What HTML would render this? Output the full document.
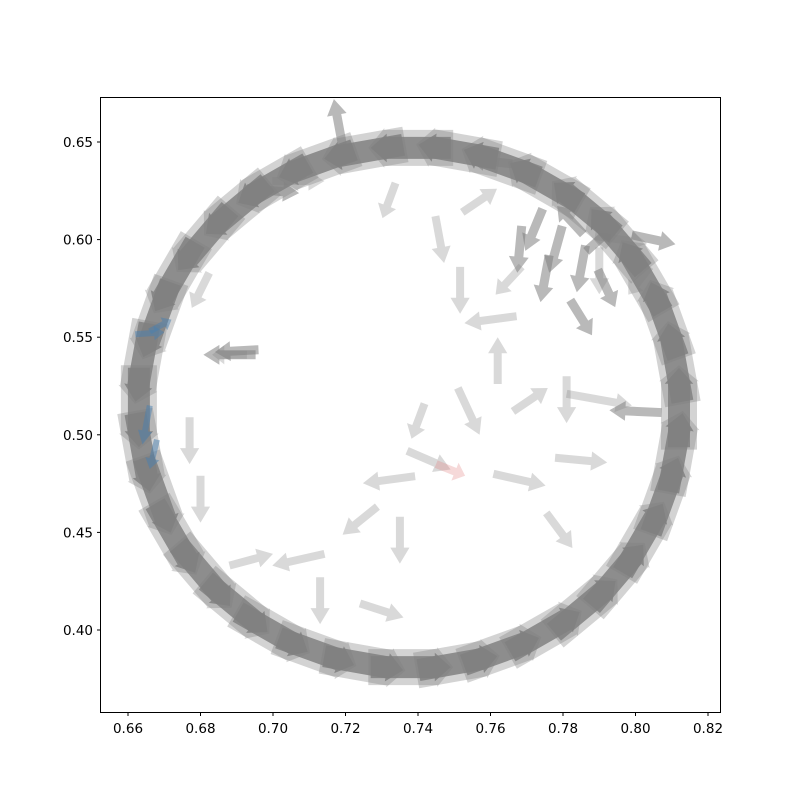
<!DOCTYPE html>
<html><head><meta charset="utf-8"><style>
body{margin:0;background:#fff}
svg text{font-family:"DejaVu Sans","Liberation Sans",sans-serif;font-size:13.5px;fill:#000}
</style></head><body>
<svg id="chart" width="800" height="800" xmlns="http://www.w3.org/2000/svg">
<rect width="800" height="800" fill="#fff"/>
<g id="marks"></g>
<rect x="100.5" y="97.5" width="620" height="615" fill="none" stroke="#000" stroke-width="1"/>
<g id="axes"></g>
</svg>
<script>
// ring arrows (data coords): positions and vector components
const ringX=[0.812,0.811,0.808,0.802,0.795,0.786,0.775,0.763,0.751,0.738,0.725,0.712,0.700,0.690,0.681,0.673,0.668,0.664,0.663,0.664,0.668,0.673,0.681,0.690,0.700,0.712,0.725,0.738,0.751,0.763,0.775,0.786,0.795,0.802,0.808,0.811];
const ringY=[0.514,0.537,0.559,0.581,0.600,0.616,0.629,0.639,0.645,0.647,0.645,0.639,0.629,0.616,0.600,0.581,0.559,0.537,0.514,0.491,0.469,0.447,0.428,0.412,0.399,0.389,0.383,0.381,0.383,0.389,0.399,0.412,0.428,0.447,0.469,0.491];
const ringU=[0,-0.0023,-0.0044,-0.0065,-0.0084,-0.0100,-0.0113,-0.0122,-0.0128,-0.013,-0.0128,-0.0122,-0.0113,-0.0100,-0.0084,-0.0065,-0.0044,-0.0023,0,0.0023,0.0044,0.0065,0.0084,0.0100,0.0113,0.0122,0.0128,0.013,0.0128,0.0122,0.0113,0.0100,0.0084,0.0065,0.0044,0.0023];
const ringV=[0.024,0.0236,0.0226,0.0208,0.0184,0.0154,0.012,0.0082,0.0042,0,-0.0042,-0.0082,-0.012,-0.0154,-0.0184,-0.0208,-0.0226,-0.0236,-0.024,-0.0236,-0.0226,-0.0208,-0.0184,-0.0154,-0.012,-0.0082,-0.0042,0,0.0042,0.0082,0.012,0.0154,0.0184,0.0208,0.0226,0.0236];
// interior arrows
const inX=[0.688,0.7516,0.760,0.762,0.740,0.754,0.771,0.785,0.781,0.790,0.732,0.743,0.768,0.735,0.724,0.707,0.694,0.779,0.713,0.730,0.680,0.677,0.680,0.707,0.732,0.757,0.790,0.801,0.796,0.765,0.746];
const inY=[0.541,0.574,0.559,0.538,0.507,0.512,0.518,0.487,0.518,0.518,0.477,0.487,0.477,0.446,0.456,0.436,0.436,0.451,0.415,0.410,0.467,0.497,0.574,0.630,0.620,0.620,0.584,0.579,0.600,0.579,0.600];
const inU=[-0.008,0,-0.012,0,-0.003,0.005,0.008,0.012,0,0.015,-0.012,0.01,0.012,0,-0.008,-0.012,0.01,0.006,0,0.01,0,0,-0.004,0.012,-0.003,0.008,0,-0.005,0.012,-0.006,0.002];
const inV=[0,-0.02,-0.003,0.02,-0.015,-0.02,0.01,-0.002,-0.02,-0.005,-0.003,-0.008,-0.005,-0.02,-0.012,-0.005,0.005,-0.015,-0.02,-0.006,-0.02,-0.02,-0.015,0,-0.015,0.01,-0.02,-0.012,-0.003,-0.012,-0.02];
// dense darker cluster arrows
const clX=[0.772,0.778,0.785,0.790,0.775,0.782,0.792,0.768,0.688,0.690,0.718,0.800,0.805,0.700,0.760,0.785];
const clY=[0.605,0.595,0.585,0.600,0.580,0.610,0.575,0.595,0.541,0.543,0.660,0.512,0.600,0.625,0.640,0.560];
const clU=[-0.004,-0.003,-0.002,0.006,-0.002,-0.006,0.004,-0.001,-0.012,-0.010,-0.002,-0.012,0.010,0.012,-0.010,0.005];
const clV=[-0.018,-0.02,-0.02,0.01,-0.02,0.012,-0.016,-0.02,0,-0.001,0.02,0.001,-0.004,-0.002,0.002,-0.015];
// blue and red arrows
const blueX=[0.666,0.669,0.665,0.667];
const blueY=[0.552,0.556,0.505,0.490];
const blueU=[0.008,0.006,-0.002,-0.002];
const blueV=[0.001,0.006,-0.02,-0.015];
const redX=[0.749];const redY=[0.482];const redU=[0.008];const redV=[-0.006];
const xTicks=[0.66,0.68,0.70,0.72,0.74,0.76,0.78,0.80,0.82];
const yTicks=[0.40,0.45,0.50,0.55,0.60,0.65];

const sx=v=>128+(v-0.66)/0.02*72.5;
const sy=v=>630-(v-0.40)/0.05*97.6;
const NS='http://www.w3.org/2000/svg';
const marks=document.getElementById('marks');
function arrow(x,y,u,v,color,op,w,hf,scale,name){
  const x0=sx(x),y0=sy(y),x1=sx(x+u*scale),y1=sy(y+v*scale);
  let dx=x1-x0,dy=y1-y0;const L=Math.hypot(dx,dy)||1;dx/=L;dy/=L;
  const px=-dy,py=dx;const hl=Math.min(16,L*0.35),hw=w/2*hf;
  const bx=x0-dx*L/2,by=y0-dy*L/2;
  const tx=bx+dx*L,ty=by+dy*L,hx=tx-dx*hl,hy=ty-dy*hl;
  const pts=[[bx+px*w/2,by+py*w/2],[hx+px*w/2,hy+py*w/2],[hx+px*hw,hy+py*hw],[tx,ty],[hx-px*hw,hy-py*hw],[hx-px*w/2,hy-py*w/2],[bx-px*w/2,by-py*w/2]];
  const p=document.createElementNS(NS,'polygon');
  p.setAttribute('points',pts.map(q=>q[0].toFixed(1)+','+q[1].toFixed(1)).join(' '));
  p.setAttribute('fill',color);p.setAttribute('fill-opacity',op);
  
  
  marks.appendChild(p);
}
for(let i=0;i<inX.length;i++)arrow(inX[i],inY[i],inU[i],inV[i],'#808080',0.3,8,2.4,1.2,'interior-arrow');
for(let i=0;i<clX.length;i++)arrow(clX[i],clY[i],clU[i],clV[i],'#808080',0.55,9,2.2,1.2,'cluster-arrow');
for(let i=0;i<ringX.length;i++)arrow(ringX[i],ringY[i],ringU[i],ringV[i],'#808080',0.35,36,1.1,1.8,'ring-arrow-outer');
for(let i=0;i<ringX.length;i++)arrow(ringX[i],ringY[i],ringU[i],ringV[i],'#808080',0.85,22,1.3,1.7,'ring-arrow');
for(let i=0;i<blueX.length;i++)arrow(blueX[i],blueY[i],blueU[i],blueV[i],'#4a7fb0',0.5,6,2.4,1,'blue-arrow');
for(let i=0;i<redX.length;i++)arrow(redX[i],redY[i],redU[i],redV[i],'#e08080',0.3,8,2.4,1,'red-arrow');

const axes=document.getElementById('axes');
xTicks.forEach(t=>{
  const x=sx(t);
  const l=document.createElementNS(NS,'line');
  l.setAttribute('x1',x);l.setAttribute('x2',x);l.setAttribute('y1',712.5);l.setAttribute('y2',716);l.setAttribute('stroke','#000');
  
  
  axes.appendChild(l);
  const tx=document.createElementNS(NS,'text');
  tx.setAttribute('x',x);tx.setAttribute('y',733);tx.setAttribute('text-anchor','middle');tx.textContent=t.toFixed(2);
  
  
  axes.appendChild(tx);
});
yTicks.forEach(t=>{
  const y=sy(t);
  const l=document.createElementNS(NS,'line');
  l.setAttribute('x1',97);l.setAttribute('x2',100.5);l.setAttribute('y1',y);l.setAttribute('y2',y);l.setAttribute('stroke','#000');
  
  
  axes.appendChild(l);
  const tx=document.createElementNS(NS,'text');
  tx.setAttribute('x',93);tx.setAttribute('y',y+5);tx.setAttribute('text-anchor','end');tx.textContent=t.toFixed(2);
  
  
  axes.appendChild(tx);
});
</script>
</body></html>
